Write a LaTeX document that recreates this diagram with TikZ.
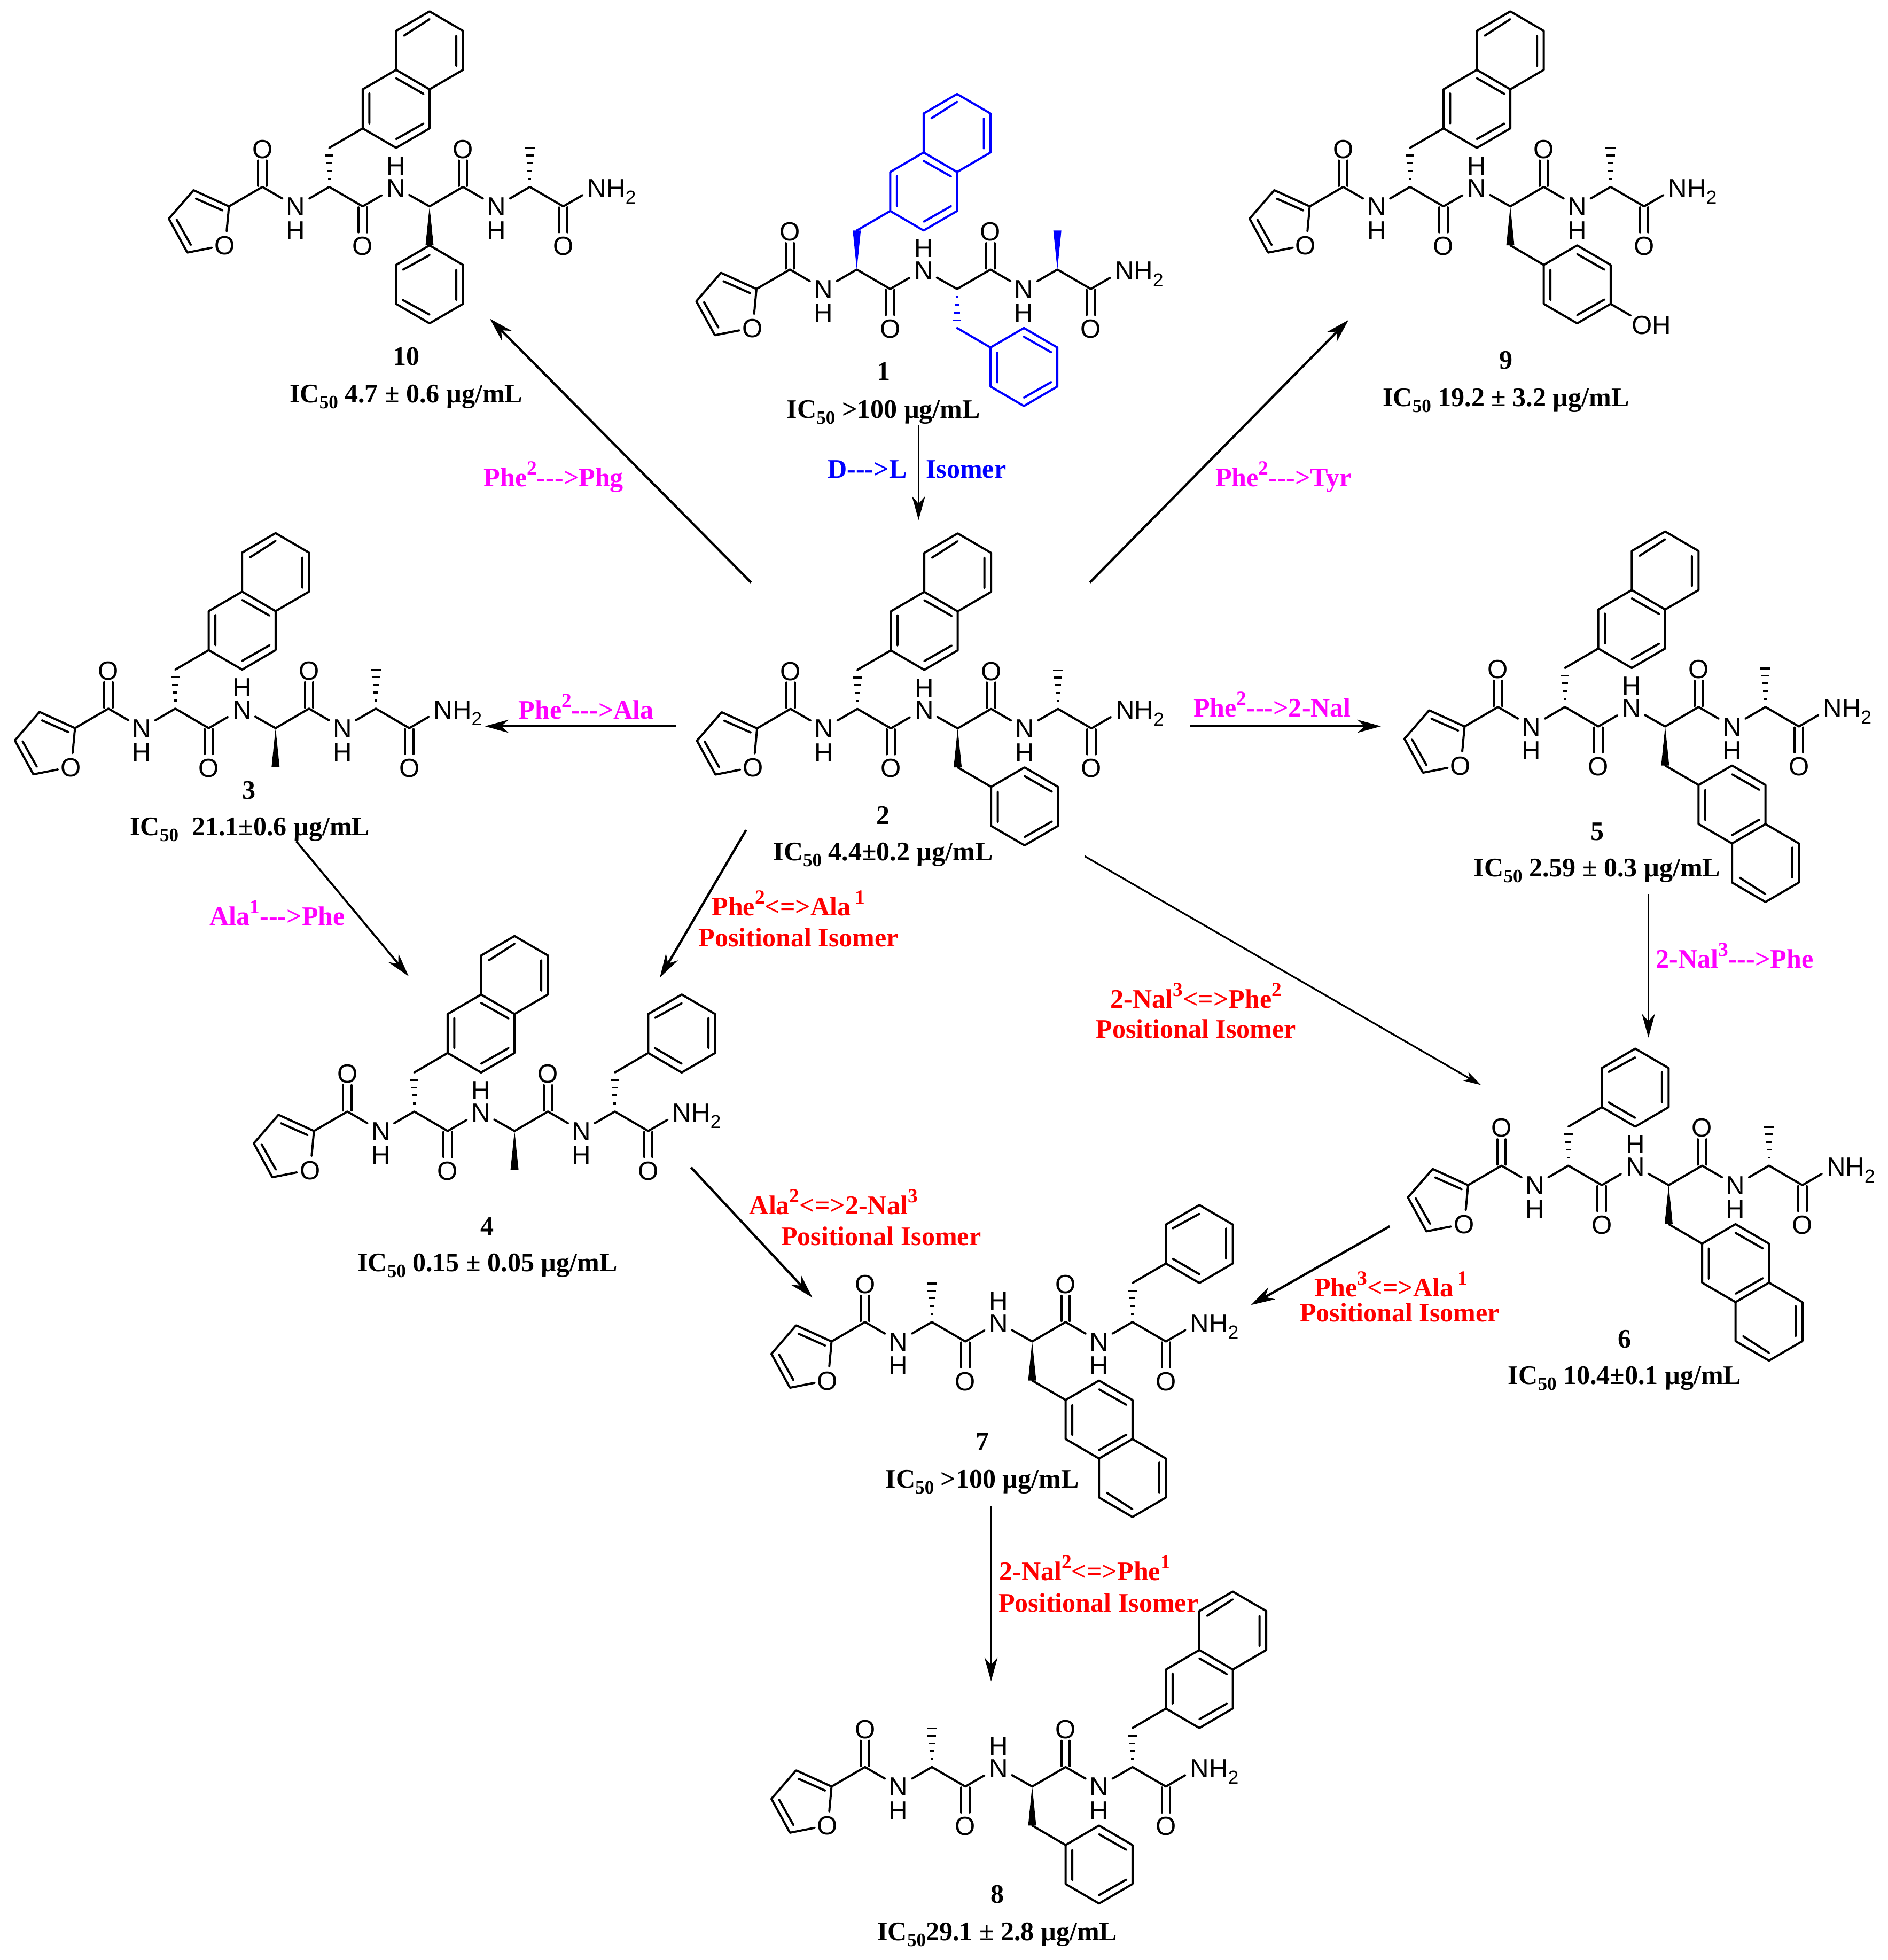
\documentclass[tikz,border=0pt]{standalone}
\usepackage{fontspec}
\usetikzlibrary{arrows.meta}
\definecolor{mgnta}{RGB}{255,0,255}
\definecolor{rd}{RGB}{255,0,0}
\definecolor{bl}{RGB}{0,0,255}
\newfontfamily\serifbf[BoldFont={Liberation Serif Bold}]{Liberation Serif}
\newfontfamily\atomsans{Liberation Sans}
\newcommand\sps[1]{\raisebox{.44em}{\fontsize{16}{16}\selectfont #1}}
\newcommand\sbs[1]{\raisebox{-.22em}{\fontsize{15}{15}\selectfont #1}}
\newcommand\icf{IC\sbs{50}}
\newcommand\dsh{-{}-{}-{}>}
\tikzset{
  bond/.style={line width=1.7pt,line join=round,line cap=round},
  hashline/.style={line width=1.5pt},
  atomlab/.style={font=\atomsans\fontsize{21}{21}\selectfont,inner sep=0pt,anchor=base,yshift=-7.5pt},
  atomwest/.style={atomlab,anchor=base west},
  lab/.style={font=\serifbf\bfseries\fontsize{21.4}{21.4}\selectfont,inner sep=0pt,anchor=base,yshift=-7.3pt},
  arr/.style={line width=1.9pt,-{Stealth[length=19pt,width=11pt,inset=6pt]}},
  arrstr/.style={line width=1.6pt,-{Stealth[length=19pt,width=10.5pt,inset=6pt]}},
  arrthin/.style={line width=1.4pt,-{Stealth[length=14pt,width=8pt,inset=4pt]}},
}
% stereo bonds
\newcommand\hashfour[3]{\foreach \d/\w in {.41/.04,.82/.07,1.22/.09,1.61/.125}{\draw[hashline] ({#1-\w},{#2+#3*\d})--({#1+\w},{#2+#3*\d});}}
\newcommand\hashfive[3]{\foreach \d/\w in {.41/.04,.82/.07,1.22/.09,1.61/.125,1.98/.15}{\draw[hashline] ({#1-\w},{#2+#3*\d})--({#1+\w},{#2+#3*\d});}}
\newcommand\wedgeb[3]{\fill ({#1},{#2})--({#1-.12},{#2+#3*2})--({#1+.12},{#2+#3*2})--cycle;}
% rings: A(x,y) B(x,y+2) C(x+1,y+3) H(x+2,y+2) I(x+2,y) J(x+1,y-1)
\newcommand\ringshape[2]{\draw[bond] (#1,#2)--(#1,{#2+2})--({#1+1},{#2+3})--({#1+2},{#2+2})--({#1+2},#2)--({#1+1},{#2-1})--cycle;}
\newcommand\ringA[2]{\ringshape{#1}{#2}\draw[bond] ({#1+.2},{#2+.25})--({#1+.2},{#2+1.8}) ({#1+1},{#2+2.57})--({#1+1.82},{#2+1.77}) ({#1+1.82},{#2+.25})--({#1+1},{#2-.55});}
\newcommand\ringB[2]{\ringshape{#1}{#2}\draw[bond] ({#1+.2},{#2+1.8})--({#1+1},{#2+2.55}) ({#1+1.8},{#2+.25})--({#1+1.8},{#2+1.8}) ({#1+.2},{#2+.25})--({#1+1},{#2-.55});}
\newcommand\naphring[2]{\ringA{#1}{#2}\draw[bond] ({#1+1},{#2+3})--({#1+1},{#2+5})--({#1+2},{#2+6})--({#1+3},{#2+5})--({#1+3},{#2+3})--({#1+2},{#2+2}) ({#1+1.23},{#2+4.75})--({#1+2},{#2+5.6}) ({#1+2.8},{#2+4.75})--({#1+2.8},{#2+3.2});}
% side chains
\newcommand\naphup[1]{\draw[bond] (#1,3)--({#1+1},4);\naphring{#1+1}{4}}
\newcommand\bnup[1]{\draw[bond] (#1,3)--({#1+1},4);\ringB{#1+1}{4}}
\newcommand\bndown{\begin{scope}[yscale=-1]\draw[bond] (6,2)--(7,3);\ringA{7}{3}\end{scope}}
\newcommand\naphdown{\begin{scope}[yscale=-1]\draw[bond] (6,2)--(7,3);\naphring{7}{3}\end{scope}}
% peptide core
\newcommand\pepcore[1]{%
 \draw[bond] (-.07,-1.28)--(0,0)--(-1.06,.83)--(-1.8,-.63)--(-1.245,-2.37)--(-.51,-2.12);
 \draw[bond] (-.99,.40)--(-.19,-.21) (-1.57,-.67)--(-1.14,-1.98);
 \draw[bond] (0,0)--(1,1)--(1.6,.4) (2.4,.4)--(3,1)--(4,0)--(4.57,.57) (5.39,.59)--(6,0)--(7,1)--(7.6,.4) (8.4,.4)--(9,1)--(10,0)--(10.58,.58);
 \foreach \c in {1,7}{\draw[bond] ({\c-.125},1.05)--({\c-.125},2.35) ({\c+.125},1.05)--({\c+.125},2.35);}
 \foreach \c in {4,10}{\draw[bond] ({\c-.125},-.05)--({\c-.125},-1.33) ({\c+.125},-.05)--({\c+.125},-1.33);}
 \node[atomlab] (#1Of) at (-.12,-2) {O};
 \node[atomlab] (#1Oa) at (1,2.95) {O};
 \node[atomlab] (#1Na) at (2,0) {N};
 \node[atomlab] (#1Ha) at (2,-1.22) {H};
 \node[atomlab] (#1Ob) at (4,-2.03) {O};
 \node[atomlab] (#1Nb) at (5,.95) {N};
 \node[atomlab] (#1Hb) at (5,2.1) {H};
 \node[atomlab] (#1Oc) at (7,2.95) {O};
 \node[atomlab] (#1Nc) at (8,0) {N};
 \node[atomlab] (#1Hc) at (8,-1.22) {H};
 \node[atomlab] (#1Od) at (10,-2.03) {O};
 \node[atomwest] (#1Ne) at (10.72,.95) {NH\raisebox{-.25em}{\fontsize{15}{15}\selectfont 2}};
}
\newcommand\molec[4]{\begin{scope}[shift={(#2,#3)},x=26.75pt,y=15.6pt]\pepcore{#1}#4\end{scope}}
\begin{document}
\begin{tikzpicture}[x=1pt,y=-1pt]
\useasboundingbox (0,0) rectangle (1510.3,1568);
% molecule 1
\molec{ma}{605.3}{231.2}{\begin{scope}[bl]\wedgeb{3}{1}{1}\naphup{3}\hashfour{6}{0}{-1}\bndown\wedgeb{9}{1}{1}\end{scope}}
% molecule 2
\molec{mb}{605.8}{582.7}{\hashfour{3}{1}{1}\naphup{3}\wedgeb{6}{0}{-1}\bndown\hashfive{9}{1}{1}}
% molecule 10
\molec{mj}{183.2}{165.1}{\hashfour{3}{1}{1}\naphup{3}\wedgeb{6}{0}{-1}\hashfive{9}{1}{1}
 \draw[bond] (6,-2)--(7,-3)--(7,-5)--(6,-6)--(5,-5)--(5,-3)--cycle (5.2,-3.25)--(6,-2.5) (6.8,-3.25)--(6.8,-4.8) (5.2,-4.8)--(6,-5.55);}
% molecule 9
\molec{mi}{1048}{165.1}{\hashfour{3}{1}{1}\naphup{3}\wedgeb{6}{0}{-1}\bndown\hashfive{9}{1}{1}
 \draw[bond] (9,-5)--(9.6,-5.6);\node[atomlab] (miOH) at (10.22,-6.08) {OH};}
% molecule 3
\molec{mc}{60}{582.5}{\hashfour{3}{1}{1}\naphup{3}\wedgeb{6}{0}{-1}\hashfive{9}{1}{1}}
% molecule 5
\molec{me}{1171.9}{581.2}{\hashfour{3}{1}{1}\naphup{3}\wedgeb{6}{0}{-1}\naphdown\hashfive{9}{1}{1}}
% molecule 4
\molec{md}{251.2}{904.8}{\hashfour{3}{1}{1}\naphup{3}\wedgeb{6}{0}{-1}\hashfour{9}{1}{1}\bnup{9}}
% molecule 6
\molec{mf}{1174.7}{948.1}{\hashfour{3}{1}{1}\bnup{3}\wedgeb{6}{0}{-1}\naphdown\hashfive{9}{1}{1}}
% molecule 7
\molec{mg}{665.4}{1073.2}{\hashfive{3}{1}{1}\wedgeb{6}{0}{-1}\naphdown\hashfour{9}{1}{1}\bnup{9}}
% molecule 8
\molec{mh}{665.4}{1429.2}{\hashfive{3}{1}{1}\wedgeb{6}{0}{-1}\bndown\hashfour{9}{1}{1}\naphup{9}}
% compound numbers and activities
\node[lab] (na) at (707,297) {1};
\node[lab] (ia) at (707,327) {\icf\ >100 µg/mL};
\node[lab] (nb) at (706.7,652) {2};
\node[lab] (ib) at (706.7,681) {\icf\ 4.4±0.2 µg/mL};
\node[lab] (nj) at (325,285) {10};
\node[lab] (ij) at (325,315) {\icf\ 4.7 ± 0.6 µg/mL};
\node[lab] (ni) at (1205,288) {9};
\node[lab] (ii) at (1205,318) {\icf\ 19.2 ± 3.2 µg/mL};
\node[lab] (nc) at (199,632) {3};
\node[lab] (ic) at (200,661) {\icf\ \ 21.1±0.6 µg/mL};
\node[lab] (ne) at (1278,665) {5};
\node[lab] (ie) at (1278,694) {\icf\ 2.59 ± 0.3 µg/mL};
\node[lab] (nd) at (390,981) {4};
\node[lab] (id) at (390,1010) {\icf\ 0.15 ± 0.05 µg/mL};
\node[lab] (nf) at (1300,1071) {6};
\node[lab] (if) at (1300,1100) {\icf\ 10.4±0.1 µg/mL};
\node[lab] (ng) at (786,1153) {7};
\node[lab] (ig) at (786,1183) {\icf\ >100 µg/mL};
\node[lab] (nh) at (798,1515) {8};
\node[lab] (ih) at (798,1545) {\icf29.1 ± 2.8 µg/mL};
% transformation labels
\node[lab,text=bl] (ta) at (694,375) {D\dsh L};
\node[lab,text=bl] (tb) at (773,375) {Isomer};
\node[lab,text=mgnta] (tc) at (443,382) {Phe\sps{2}\dsh Phg};
\node[lab,text=mgnta] (td) at (1027,382) {Phe\sps{2}\dsh Tyr};
\node[lab,text=mgnta] (te) at (469,568) {Phe\sps{2}\dsh Ala};
\node[lab,text=mgnta] (tf) at (1018,566) {Phe\sps{2}\dsh 2-Nal};
\node[lab,text=mgnta] (tg) at (222,733) {Ala\sps{1}\dsh Phe};
\node[lab,text=mgnta] (th) at (1388,767) {2-Nal\sps{3}\dsh Phe};
\node[lab,text=rd] (ti) at (631,725) {Phe\sps{2}<=>Ala\,\sps{1}};
\node[lab,text=rd] (tj) at (639,750) {Positional Isomer};
\node[lab,text=rd] (tk) at (957,799) {2-Nal\sps{3}<=>Phe\sps{2}};
\node[lab,text=rd] (tl) at (957,823) {Positional Isomer};
\node[lab,text=rd] (tm) at (667,964) {Ala\sps{2}<=>2-Nal\sps{3}};
\node[lab,text=rd] (tn) at (705,989) {Positional Isomer};
\node[lab,text=rd] (to) at (1113,1030) {Phe\sps{3}<=>Ala\,\sps{1}};
\node[lab,text=rd] (tp) at (1120,1050) {Positional Isomer};
\node[lab,text=rd] (tq) at (868,1257) {2-Nal\sps{2}<=>Phe\sps{1}};
\node[lab,text=rd] (tr) at (879,1282) {Positional Isomer};
% arrow ends
\coordinate (abS) at (735,340); \coordinate (abE) at (735,416);
\coordinate (bjS) at (601,466); \coordinate (bjE) at (392,255);
\coordinate (biS) at (872,466); \coordinate (biE) at (1079,256);
\coordinate (bcS) at (541,581); \coordinate (bcE) at (388,581);
\coordinate (beS) at (952,581); \coordinate (beE) at (1105,581);
\coordinate (cdS) at (237,673); \coordinate (cdE) at (327,781);
\coordinate (bdS) at (597,664); \coordinate (bdE) at (528,782);
\coordinate (bfS) at (868,685); \coordinate (bfE) at (1185,868);
\coordinate (efS) at (1319,715); \coordinate (efE) at (1319,830);
\coordinate (dgS) at (553,934); \coordinate (dgE) at (650,1038);
\coordinate (fgS) at (1112,981); \coordinate (fgE) at (1001,1044);
\coordinate (ghS) at (793,1205); \coordinate (ghE) at (793,1345);
\draw[arrstr] (abS)--(abE);
\draw[arr] (bjS)--(bjE);
\draw[arr] (biS)--(biE);
\draw[arrstr] (bcS)--(bcE);
\draw[arrstr] (beS)--(beE);
\draw[arrstr] (cdS)--(cdE);
\draw[arr] (bdS)--(bdE);
\draw[arrthin] (bfS)--(bfE);
\draw[arrstr] (efS)--(efE);
\draw[arr] (dgS)--(dgE);
\draw[arr] (fgS)--(fgE);
\draw[arrstr] (ghS)--(ghE);
\end{tikzpicture}
\end{document}
